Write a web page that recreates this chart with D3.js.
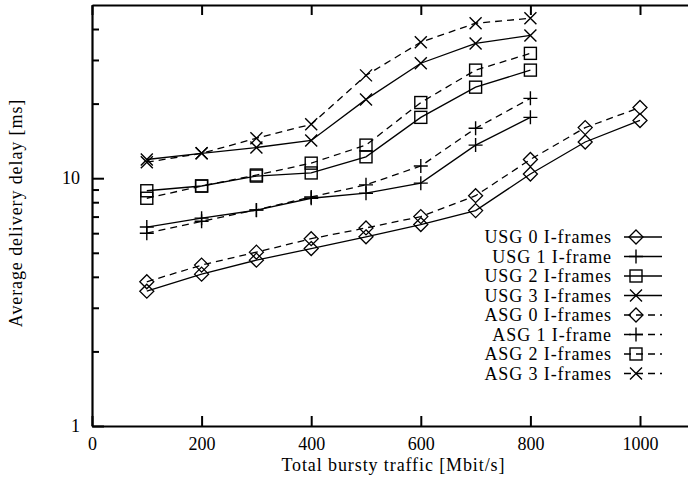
<!DOCTYPE html>
<html>
<head>
<meta charset="utf-8">
<script src="https://cdn.jsdelivr.net/npm/d3@7"></script>
<style>
  body { margin: 0; background: #fff; }
  svg { display: block; }
  text { font-family: "Liberation Serif", "DejaVu Serif", serif; fill: #000; }
  .words { letter-spacing: 0.9px; }
</style>
</head>
<body>
<div id="chart"></div>
<script>
// traffic values (Mbit/s)
var traffic = [100, 200, 300, 400, 500, 600, 700, 800, 900, 1000];

// delays in ms
var usg0 = [3.5, 4.1, 4.67, 5.2, 5.8, 6.5, 7.4, 10.4, 14.0, 17.1];
var usg1 = [6.35, 6.9, 7.43, 8.3, 8.7, 9.55, 13.6, 17.6];
var usg2 = [8.9, 9.3, 10.2, 10.5, 12.2, 17.6, 23.3, 27.3];
var usg3 = [11.9, 12.6, 13.3, 14.2, 20.8, 29.1, 35.0, 37.7];
var asg0 = [3.82, 4.46, 5.03, 5.7, 6.3, 7.0, 8.5, 11.9, 16.0, 19.3];
var asg1 = [6.0, 6.7, 7.45, 8.4, 9.4, 11.2, 15.9, 21.0];
var asg2 = [8.3, 9.3, 10.3, 11.5, 13.6, 20.2, 27.3, 31.9];
var asg3 = [11.6, 12.6, 14.5, 16.5, 26.0, 35.4, 42.2, 44.2];

var seriesNames = ['USG 0 I-frames', 'USG 1 I-frame', 'USG 2 I-frames', 'USG 3 I-frames',
                   'ASG 0 I-frames', 'ASG 1 I-frame', 'ASG 2 I-frames', 'ASG 3 I-frames'];
var seriesValues = [usg0, usg1, usg2, usg3, asg0, asg1, asg2, asg3];
var seriesMarks = ['diamond', 'plus', 'square', 'cross', 'diamond', 'plus', 'square', 'cross'];
var seriesDashed = [false, false, false, false, true, true, true, true];

var xTicks = [0, 200, 400, 600, 800, 1000];
var yMajor = [1, 10];
var yMinor = [2, 3, 4, 5, 6, 7, 8, 9, 20, 30, 40];

var width = 688, height = 478;
var plotLeft = 92, plotTop = 5, plotBottom = 426;

var x = d3.scaleLinear().domain([0, 1100]).range([plotLeft, plotLeft + 1100 * 0.548]);
var y = d3.scaleLog().domain([1, 50]).range([plotBottom, plotTop]);

var svg = d3.select('#chart').append('svg').attr('width', width).attr('height', height);

// markers
function drawMark(g, type, cx, cy) {
    var s;
    if (type === 'diamond') {
        s = 7;
        g.append('path').attr('d', `M${cx},${cy - s}L${cx + s},${cy}L${cx},${cy + s}L${cx - s},${cy}Z`)
            .attr('fill', 'none').attr('stroke', '#000').attr('stroke-width', 1.3);
    } else if (type === 'plus') {
        s = 7;
        g.append('path').attr('d', `M${cx - s},${cy}H${cx + s}M${cx},${cy - s}V${cy + s}`)
            .attr('fill', 'none').attr('stroke', '#000').attr('stroke-width', 1.4);
    } else if (type === 'square') {
        s = 6;
        g.append('rect').attr('x', cx - s).attr('y', cy - s).attr('width', 2 * s).attr('height', 2 * s)
            .attr('fill', 'none').attr('stroke', '#000').attr('stroke-width', 1.4);
    } else {
        s = 6;
        g.append('path').attr('d', `M${cx - s},${cy - s}L${cx + s},${cy + s}M${cx - s},${cy + s}L${cx + s},${cy - s}`)
            .attr('fill', 'none').attr('stroke', '#000').attr('stroke-width', 1.4);
    }
}

// axes
var xAxis = svg.append('g').attr('transform', `translate(0,${plotBottom})`)
    .call(d3.axisBottom(x).tickValues(xTicks).tickSizeInner(-10).tickSizeOuter(0).tickPadding(11)
        .tickFormat(d3.format('d')));
xAxis.select('.domain').attr('stroke-width', 2.2);
xAxis.selectAll('.tick line').attr('stroke-width', 2);
xAxis.selectAll('text').style('font-size', '18px');

var xTop = svg.append('g').attr('transform', `translate(0,${plotTop})`)
    .call(d3.axisTop(x).tickValues(xTicks).tickSizeInner(-10).tickSizeOuter(0).tickFormat(''));
xTop.select('.domain').attr('stroke-width', 2.2);
xTop.selectAll('.tick line').attr('stroke-width', 2);

var yAxis = svg.append('g').attr('transform', `translate(${plotLeft},0)`)
    .call(d3.axisLeft(y).tickValues(yMajor).tickSizeInner(-12).tickSizeOuter(0).tickPadding(12)
        .tickFormat(d3.format('d')));
yAxis.select('.domain').attr('stroke-width', 2.2);
yAxis.selectAll('.tick line').attr('stroke-width', 2);
yAxis.selectAll('text').style('font-size', '18px');

var yMin = svg.append('g').attr('transform', `translate(${plotLeft},0)`)
    .call(d3.axisLeft(y).tickValues(yMinor).tickSizeInner(-7).tickSizeOuter(0).tickFormat(''));
yMin.select('.domain').remove();
yMin.selectAll('.tick line').attr('stroke-width', 2);

// axis titles
svg.append('text').attr('class', 'words').attr('x', x(550)).attr('y', 471).attr('text-anchor', 'middle')
    .style('font-size', '18px').text('Total bursty traffic [Mbit/s]');
svg.append('text').attr('class', 'words').attr('transform', `translate(22,${213}) rotate(-90)`)
    .attr('text-anchor', 'middle')
    .style('font-size', '18px').text('Average delivery delay [ms]');

// lines and points
var line = d3.line().x(d => x(d[0])).y(d => y(d[1]));
seriesValues.forEach(function (vals, i) {
    var pts = vals.map((v, j) => [traffic[j], v]);
    svg.append('path').datum(pts).attr('d', line)
        .attr('fill', 'none').attr('stroke', '#000').attr('stroke-width', 1.3)
        .attr('stroke-dasharray', seriesDashed[i] ? '7,5' : null);
    var g = svg.append('g');
    pts.forEach(p => drawMark(g, seriesMarks[i], x(p[0]), y(p[1])));
});

// legend
var legend = svg.append('g');
seriesNames.forEach(function (name, i) {
    var ly = 237 + i * 19.5;
    legend.append('text').attr('class', 'words').attr('x', 612).attr('y', ly).attr('dy', '0.35em')
        .attr('text-anchor', 'end')
        .style('font-size', '18px').text(name);
    legend.append('line').attr('x1', 624).attr('x2', 662).attr('y1', ly).attr('y2', ly)
        .attr('stroke', '#000').attr('stroke-width', 1.3)
        .attr('stroke-dasharray', seriesDashed[i] ? '7,5' : null);
    drawMark(legend, seriesMarks[i], 636, ly);
});
</script>
</body>
</html>
